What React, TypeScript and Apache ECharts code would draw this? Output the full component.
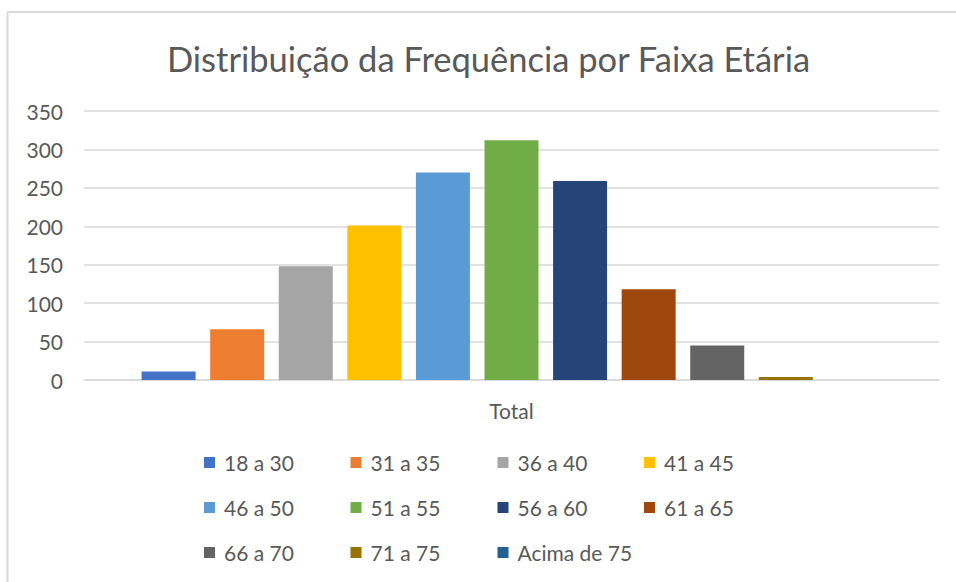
import React, { useEffect, useRef } from "react";
import * as echarts from "echarts";

const TITLE = "Distribuição da Frequência por Faixa Etária";
const CATEGORIES = ["Total"];
const SERIES_NAMES = [
  "18 a 30",
  "31 a 35",
  "36 a 40",
  "41 a 45",
  "46 a 50",
  "51 a 55",
  "56 a 60",
  "61 a 65",
  "66 a 70",
  "71 a 75",
  "Acima de 75",
];
const SERIES_VALUES = [11, 66, 148, 201, 270, 312, 259, 118, 45, 4, 0];
const SERIES_COLORS = [
  "#4472C4",
  "#ED7D31",
  "#A5A5A5",
  "#FFC000",
  "#5B9BD5",
  "#70AD47",
  "#264478",
  "#9E480E",
  "#636363",
  "#997300",
  "#255E91",
];
const Y_MIN = 0;
const Y_MAX = 350;
const Y_INTERVAL = 50;

const FONT = "Lato, 'Open Sans', sans-serif";
const TEXT_COLOR = "#595959";
const LINE_COLOR = "#d9d9d9";

const LEGEND_COLS = [204, 350.5, 497.5, 644];
const LEGEND_ROWS = [464, 509, 554];

export default function App() {
  const ref = useRef<HTMLDivElement>(null);

  useEffect(() => {
    if (!ref.current) return;
    const chart = echarts.init(ref.current, null, { renderer: "svg" });

    const legends = SERIES_NAMES.map((name, i) => {
      const r = Math.floor(i / 4);
      const c = i % 4;
      return {
        left: LEGEND_COLS[c],
        top: LEGEND_ROWS[r] - 12,
        padding: 0,
        itemWidth: 11,
        itemHeight: 11,
        icon: "rect",
        data: [name],
        selectedMode: false,
        textStyle: {
          fontFamily: FONT,
          fontSize: 21,
          color: TEXT_COLOR,
          padding: [0, 0, 0, 4],
        },
      };
    });

    chart.setOption({
      animation: false,
      backgroundColor: "#ffffff",
      graphic: [
        {
          type: "line",
          shape: { x1: 7, y1: 12, x2: 956, y2: 12 },
          style: { stroke: LINE_COLOR, lineWidth: 2 },
          silent: true,
        },
        {
          type: "line",
          shape: { x1: 7.5, y1: 12, x2: 7.5, y2: 582 },
          style: { stroke: LINE_COLOR, lineWidth: 2 },
          silent: true,
        },
        {
          type: "text",
          x: 488.5,
          y: 58,
          style: {
            text: TITLE,
            fontFamily: FONT,
            fontSize: 34.5,
            fill: TEXT_COLOR,
            textAlign: "center",
            textVerticalAlign: "middle",
          },
          silent: true,
        },
      ],
      legend: legends,
      grid: { left: 84, right: 17, top: 111, bottom: 202, containLabel: false },
      xAxis: {
        type: "category",
        data: CATEGORIES,
        axisLine: { show: true, lineStyle: { color: LINE_COLOR, width: 1.5 } },
        axisTick: { show: false },
        axisLabel: {
          fontFamily: FONT,
          fontSize: 21,
          color: TEXT_COLOR,
          margin: 20,
        },
      },
      yAxis: {
        type: "value",
        min: Y_MIN,
        max: Y_MAX,
        interval: Y_INTERVAL,
        axisLine: { show: false },
        axisTick: { show: false },
        axisLabel: {
          fontFamily: FONT,
          fontSize: 21,
          color: TEXT_COLOR,
          margin: 21,
        },
        splitLine: { lineStyle: { color: LINE_COLOR, width: 1.5 } },
      },
      series: SERIES_NAMES.map((name, i) => ({
        name,
        type: "bar",
        data: [SERIES_VALUES[i]],
        barWidth: 54,
        barGap: "27%",
        itemStyle: { color: SERIES_COLORS[i] },
      })),
    });

    return () => chart.dispose();
  }, []);

  return (
    <div
      ref={ref}
      style={{ position: "fixed", left: 0, top: 0, width: 956, height: 582 }}
    />
  );
}
